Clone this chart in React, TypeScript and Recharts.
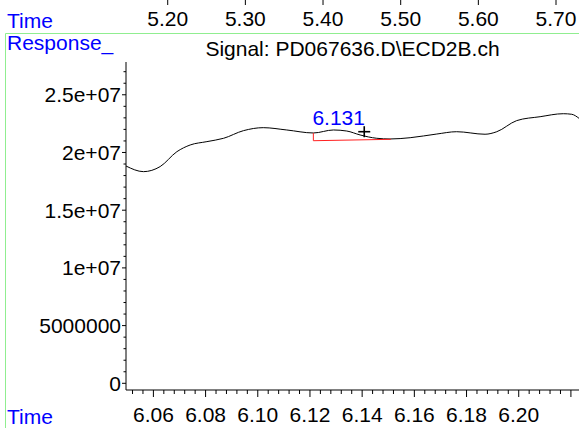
import React from 'react';
import { ComposedChart, Line, XAxis, YAxis, ReferenceDot } from 'recharts';

const FONT = '"Liberation Sans", Arial, Helvetica, sans-serif';
const FS = 21;

// Signal trace: retention time (min) and detector response
const traceTime = [6.0495, 6.0562, 6.0626, 6.0690, 6.0741, 6.0805, 6.0869, 6.0945, 6.1021, 6.1111, 6.1213, 6.1290, 6.1341, 6.1392, 6.1456, 6.1507, 6.1584, 6.1686, 6.1762, 6.1871, 6.1916, 6.1992, 6.2082, 6.2171, 6.2203, 6.2231];
const traceResponse = [1.883e7, 1.834e7, 1.878e7, 2.007e7, 2.065e7, 2.094e7, 2.123e7, 2.189e7, 2.215e7, 2.195e7, 2.169e7, 2.195e7, 2.186e7, 2.152e7, 2.123e7, 2.117e7, 2.128e7, 2.160e7, 2.180e7, 2.158e7, 2.180e7, 2.276e7, 2.310e7, 2.336e7, 2.331e7, 2.296e7];

// Integration baseline of the labelled peak
const baselineTime = [6.1213, 6.1213, 6.1510];
const baselineResponse = [2.169e7, 2.102e7, 2.114e7];

// Peak annotation
const peakTime = 6.131;
const peakLabel = '6.131';
const peakLabelResponse = 2.238e7;
const markerTime = 6.1408;
const markerResponse = 2.18e7;

// Axes
const xDomain = [6.0495, 6.2231];
const xMajorTicks = [6.06, 6.08, 6.1, 6.12, 6.14, 6.16, 6.18, 6.2, 6.22];
const xLabels = ['6.06', '6.08', '6.10', '6.12', '6.14', '6.16', '6.18', '6.20'];
const xMinorStep = 0.004;

const yDomain = [-580000, 27840000];
const yMajorTicks = [0, 5000000, 10000000, 15000000, 20000000, 25000000];
const yLabels = ['0', '5000000', '1e+07', '1.5e+07', '2e+07', '2.5e+07'];
const yMinorStep = 1000000;

const topDomain = [5.1463, 5.7296];
const topTicks = [5.2, 5.3, 5.4, 5.5, 5.6, 5.7];
const topLabels = ['5.20', '5.30', '5.40', '5.50', '5.60', '5.70'];

const traceData = traceTime.map((t, i) => ({ t, v: traceResponse[i] }));
const baselineData = baselineTime.map((t, i) => ({ t, v: baselineResponse[i] }));
// overview-time axis carries no marks: its data is just its own tick positions
const topAxisData = topTicks.map((tt) => ({ tt }));

const xAllTicks: number[] = [];
for (let k = Math.ceil(xDomain[0] / xMinorStep); k * xMinorStep <= xDomain[1] + 1e-9; k++) {
  xAllTicks.push(Math.round(k * xMinorStep * 1000) / 1000);
}
const yAllTicks: number[] = [];
for (let k = 0; k * yMinorStep <= yDomain[1]; k++) yAllTicks.push(k * yMinorStep);

const X_TICK = 7;
const X_MARGIN = 10;
const XTick = (props: any) => {
  const { x, y, payload } = props;
  const v = payload.value;
  const idx = xMajorTicks.findIndex((m) => Math.abs(m - v) < 1e-6);
  const axisY = y - X_TICK - X_MARGIN;
  const len = idx >= 0 ? 7 : 4;
  return (
    <g>
      <line x1={x} x2={x} y1={axisY} y2={axisY + len} stroke="#000" strokeWidth={1} />
      {idx >= 0 && idx < xLabels.length && (
        <text x={x} y={y} dy="0.71em" textAnchor="middle" fontSize={FS} fontFamily={FONT} fill="#000">
          {xLabels[idx]}
        </text>
      )}
    </g>
  );
};

const Y_TICK = 4;
const Y_MARGIN = 1;
const YTick = (props: any) => {
  const { x, y, payload } = props;
  const v = payload.value;
  const idx = yMajorTicks.findIndex((m) => Math.abs(m - v) < 1);
  const axisX = x + Y_TICK + Y_MARGIN;
  const len = idx >= 0 ? 4 : 2.5;
  return (
    <g>
      <line x1={axisX - len} x2={axisX} y1={y} y2={y} stroke="#000" strokeWidth={1} />
      {idx >= 0 && (
        <text x={x} y={y} dy="0.355em" textAnchor="end" fontSize={FS} fontFamily={FONT} fill="#000">
          {yLabels[idx]}
        </text>
      )}
    </g>
  );
};

// Top (overview) time axis: ticks hang from the top edge, labels below them
const TOP_H = 62;
const TOP_BASELINE = 26;
const TopTick = (props: any) => {
  const { x, y, payload } = props;
  const i = topTicks.findIndex((m) => Math.abs(m - payload.value) < 1e-6);
  const top = y - TOP_BASELINE;
  return (
    <g>
      <line x1={x} x2={x} y1={top} y2={top + 5} stroke="#000" strokeWidth={1} />
      <text x={x} y={y} textAnchor="middle" fontSize={FS} fontFamily={FONT} fill="#000">
        {i >= 0 ? topLabels[i] : ''}
      </text>
    </g>
  );
};

export default function App() {
  return (
    <div style={{ position: 'absolute', left: 0, top: 0, width: 579, height: 428, background: '#fff', overflow: 'hidden' }}>
      <div style={{ position: 'absolute', left: 0, top: 0 }}>
        <ComposedChart width={579} height={428} data={traceData} margin={{ top: 0, right: 0, bottom: 0, left: 0 }}>
          <XAxis
            xAxisId="top"
            dataKey="tt"
            type="number"
            scale="linear"
            orientation="top"
            domain={topDomain}
            allowDataOverflow
            ticks={topTicks}
            interval={0}
            tick={<TopTick />}
            axisLine={false}
            tickLine={false}
            tickSize={0}
            tickMargin={TOP_H - TOP_BASELINE}
            height={TOP_H}
          />
          <XAxis
            dataKey="t"
            type="number"
            domain={xDomain}
            allowDataOverflow
            ticks={xAllTicks}
            interval={0}
            tick={<XTick />}
            tickLine={false}
            tickSize={X_TICK}
            tickMargin={X_MARGIN}
            height={38}
            axisLine={{ stroke: '#000' }}
          />
          <YAxis
            type="number"
            domain={yDomain}
            allowDataOverflow
            ticks={yAllTicks}
            interval={0}
            tick={<YTick />}
            tickLine={false}
            tickSize={Y_TICK}
            tickMargin={Y_MARGIN}
            width={126}
            axisLine={{ stroke: '#000' }}
          />
          <Line
            xAxisId="top"
            data={topAxisData}
            dataKey="tt"
            stroke="none"
            dot={false}
            activeDot={false}
            legendType="none"
            isAnimationActive={false}
          />
          <Line dataKey="v" type="monotone" stroke="#000" strokeWidth={1} dot={false} isAnimationActive={false} />
          <Line data={baselineData} dataKey="v" type="linear" stroke="#ff2020" strokeWidth={1} dot={false} isAnimationActive={false} />
          <ReferenceDot
            x={peakTime}
            y={peakLabelResponse}
            r={0}
            shape={(p: any) => (
              <text x={p.cx} y={p.cy} textAnchor="middle" fontSize={FS} fontFamily={FONT} fill="#0000ff">
                {peakLabel}
              </text>
            )}
          />
          <ReferenceDot
            x={markerTime}
            y={markerResponse}
            r={0}
            shape={(p: any) => (
              <g stroke="#000" strokeWidth={1.6}>
                <line x1={p.cx - 6} x2={p.cx + 6} y1={p.cy} y2={p.cy} />
                <line x1={p.cx} x2={p.cx} y1={p.cy - 5.5} y2={p.cy + 5.5} />
              </g>
            )}
          />
        </ComposedChart>
      </div>
      <svg width={579} height={428} style={{ position: 'absolute', left: 0, top: 0, pointerEvents: 'none' }}>
        <line x1={5.5} x2={579} y1={33.5} y2={33.5} stroke="#90ee90" strokeWidth={1} />
        <line x1={5.5} x2={5.5} y1={33.5} y2={428} stroke="#90ee90" strokeWidth={1} />
        <text x={7} y={28} fontSize={FS} fontFamily={FONT} fill="#0000ff">Time</text>
        <text x={7} y={50} fontSize={FS} fontFamily={FONT} fill="#0000ff">Response_</text>
        <text x={352.5} y={56} textAnchor="middle" fontSize={FS} fontFamily={FONT} fill="#000">Signal: PD067636.D\ECD2B.ch</text>
        <text x={7} y={424} fontSize={FS} fontFamily={FONT} fill="#0000ff">Time</text>
      </svg>
    </div>
  );
}
